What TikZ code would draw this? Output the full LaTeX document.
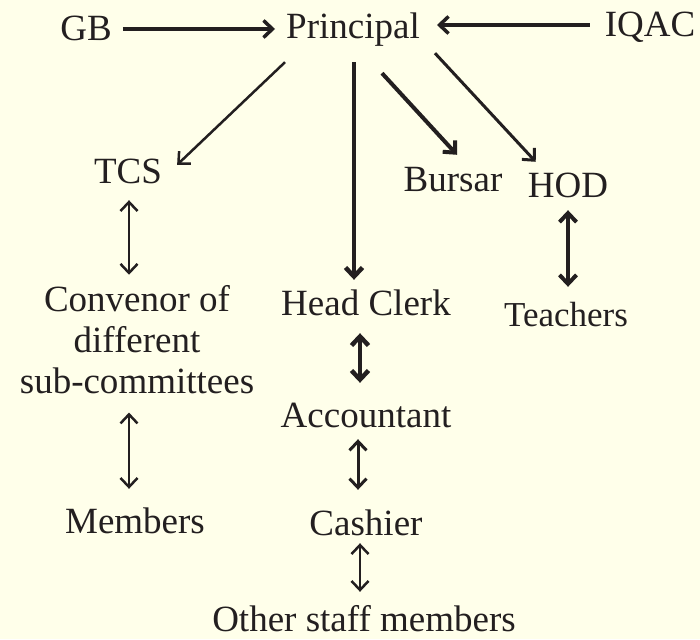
\documentclass[tikz,border=0pt]{standalone}
\usepackage{fontspec}
\setmainfont{Liberation Serif}
\usepackage{xcolor}
\usepackage{tikz}
\usetikzlibrary{arrows.meta,positioning,calc}
\definecolor{bgyellow}{RGB}{255,255,234}
\definecolor{inkdark}{RGB}{35,31,32}

\begin{document}
\begin{tikzpicture}[
x=1pt,y=-1pt,
lbl/.style={
  inner sep=0pt,
  anchor=base,
  text height=26pt,
  text depth=8pt,
  text=inkdark,
  font=\fontsize{37}{41}\selectfont
  },
lblm/.style={
  inner sep=0pt,
  anchor=base,
  align=center,
  text=inkdark,
  font=\fontsize{37}{41}\selectfont
  },
ar/.style={
  draw=inkdark,
  line width=#1,
  -{Straight Barb[length=9pt,width=17pt]}
  },
ar/.default=3pt,
dar/.style={
  draw=inkdark,
  line width=#1,
  {Straight Barb[length=9pt,width=17pt]}-{Straight Barb[length=9pt,width=17pt]}
  },
dar/.default=2.5pt
]

\fill[bgyellow] (0,0) rectangle (700,639);
\useasboundingbox (0,0) rectangle (700,639);

%The nodes on top
\node[lbl] (gb) at (86,41)
  {GB};
\node[lbl] (prin) at (353,39)
  {Principal};
\node[lbl] (iqac) at (650,37)
  {IQAC};

%The nodes of the left column
\node[lbl] (tcs) at (128,183)
  {TCS};
\node[lblm] (conv) at (137,393)
  {Convenor of\\different\\sub-committees};
\node[lbl] (memb) at (135,533)
  {Members};

%The nodes of the middle column
\node[lbl] (hclerk) at (366,315)
  {Head Clerk};
\node[lbl] (acct) at (366,427)
  {Accountant};
\node[lbl] (cash) at (366,535)
  {Cashier};
\node[lbl] (staff) at (364,631)
  {Other staff members};

%The nodes on the right
\node[lbl] (bursar) at (453,191)
  {Bursar};
\node[lbl] (hod) at (568,197)
  {HOD};
\node[lbl,font=\fontsize{35}{40}\selectfont] (teach) at (566,326)
  {Teachers};

\draw[ar=3.5pt]  ([xshift=11pt,yshift=3pt]gb.east) -- ([xshift=-11pt,yshift=1pt]prin.west);
\draw[ar=3.5pt]  ([xshift=-15pt,yshift=3pt]iqac.west) -- ([xshift=17pt,yshift=5pt]prin.east);
\draw[ar=2.5pt]  ([xshift=-68pt,yshift=-15pt]prin.south) -- ([xshift=15pt,yshift=-8pt]tcs.north east);
\draw[ar=4.5pt]  ([xshift=1pt,yshift=-15pt]prin.south) -- ([xshift=-12pt,yshift=9pt]hclerk.north);
\draw[ar=4pt]  ([xshift=29pt,yshift=-26pt]prin.south) -- ([xshift=4pt,yshift=10pt]bursar.north);
\draw[ar=3pt]  ([xshift=15pt,yshift=-6pt]prin.south east) -- ([xshift=8pt,yshift=9pt]hod.north west);

\draw[dar]  ([xshift=1pt,yshift=-9pt]tcs.south) -- ([xshift=-8pt,yshift=10pt]conv.north);
\draw[dar]  ([xshift=-8pt,yshift=-19pt]conv.south) -- ([xshift=-6pt,yshift=18pt]memb.north);
\draw[dar=4pt]  ([yshift=-5pt]hod.south) -- ([xshift=2pt,yshift=13pt]teach.north);
\draw[dar=4.5pt]  ([xshift=-6pt,yshift=-10pt]hclerk.south) -- ([xshift=-6pt,yshift=18pt]acct.north);
\draw[dar=3pt]  ([xshift=-8pt,yshift=-4pt]acct.south) -- ([xshift=-8pt,yshift=19pt]cash.north);
\draw[dar]  ([xshift=-6pt]cash.south) -- ([xshift=-4pt,yshift=13pt]staff.north);

\end{tikzpicture}
\end{document}
